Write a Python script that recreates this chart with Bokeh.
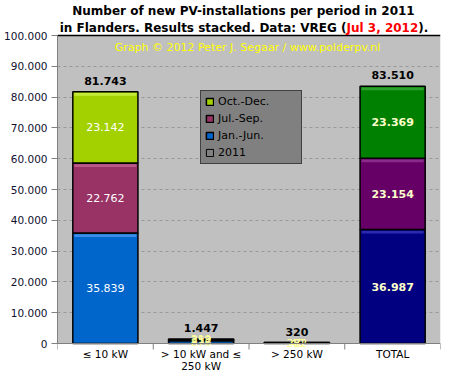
from bokeh.plotting import figure
from bokeh.models import (ColumnDataSource, Label, Legend, LegendItem, FixedTicker, Span,
                          BoxAnnotation)
from bokeh.core.properties import value
from bokeh.embed import file_html
from bokeh.resources import INLINE

# ---- data ----
categories = ["≤ 10 kW", "> 10 kW and ≤\n250 kW", "> 250 kW", "TOTAL"]
jan_jun = [35839, 876, 272, 36987]
jul_sep = [22762, 352, 40, 23154]
oct_dec = [23142, 219, 8, 23369]
totals = [81743, 1447, 320, 83510]
series_names = ["Jan.-Jun.", "Jul.-Sep.", "Oct.-Dec."]
y_ticks = [0, 10000, 20000, 30000, 40000, 50000, 60000, 70000, 80000, 90000, 100000]

# ---- styles ----
series_colors = ["#0066CC", "#993366", "#A3D100"]
total_colors = ["#000080", "#660066", "#008000"]
series_hi = ["#3A8EE6", "#B85A8A", "#C4EA3A"]
total_hi = ["#2A2AB0", "#8A2A8A", "#2EA02E"]
FONT = "DejaVu Sans"

W, H = 445, 373
FL, FT, FR, FB = 57, 35, 440, 343  # plot-area edges in picture pixels


def fmt(v):
    return f"{v:,}".replace(",", ".")


xs = list(range(1, len(categories) + 1))
n = len(categories)
YMAX = y_ticks[-1]
PX = YMAX / (FB - FT)          # data units per pixel (vertical)
XPX = n / (FR - FL)            # data units per pixel (horizontal)

# frame covers the full picture height; the value axis runs 0..YMAX inside it
p = figure(width=W, height=H, x_range=(0.5, n + 0.5),
           y_range=(-(H - FB) * PX, FB * PX),
           output_backend="svg", toolbar_location=None,
           min_border_left=FL, min_border_right=W - FR, min_border_top=0,
           min_border_bottom=0)
p.background_fill_color = "white"
p.border_fill_color = "white"
p.outline_line_color = None

p.add_layout(BoxAnnotation(bottom=0, top=YMAX, fill_color="#C0C0C0", fill_alpha=1,
                           line_color=None, level="image"))

# y axis
p.yaxis.ticker = FixedTicker(ticks=y_ticks, minor_ticks=[])
p.yaxis.bounds = (0, YMAX)
p.yaxis.major_label_overrides = {t: fmt(t) for t in y_ticks}
p.yaxis.major_label_text_font = FONT
p.yaxis.major_label_text_font_size = "10.5px"
p.yaxis.major_label_text_color = "#101030"
p.yaxis.axis_line_color = "#808080"
p.yaxis.major_tick_line_color = "#808080"
p.yaxis.major_tick_out = 6
p.yaxis.major_tick_in = 0
p.yaxis.major_label_standoff = 4

p.xaxis.visible = False
p.xgrid.grid_line_color = None
p.ygrid.ticker = FixedTicker(ticks=y_ticks[1:-1])
p.ygrid.grid_line_color = "#999999"
p.ygrid.grid_line_dash = "3 3"

p.add_layout(Span(location=YMAX, dimension="width", line_color="black", line_width=1.5))
p.add_layout(Span(location=0, dimension="width", line_color="#808080", line_width=1))

# category boundary ticks and category labels
bounds = [i + 0.5 for i in range(0, n + 1)]
p.segment(x0=bounds, y0=[0] * len(bounds), x1=bounds, y1=[-6 * PX] * len(bounds),
          line_color="#808080", line_width=1)
p.text(x=xs, y=[0] * n, text=categories, text_font=value(FONT), text_font_size="10.5px",
       text_color="black", text_align="center", text_baseline="top", y_offset=4,
       text_line_height=1.0)

# stacked bars
vals = [jan_jun, jul_sep, oct_dec]
bottoms = [0] * n
renderers = []
label_x, label_y, label_t, label_c, label_w = [], [], [], [], []
for si, sv in enumerate(vals):
    tops = [b + v for b, v in zip(bottoms, sv)]
    colors = [series_colors[si]] * (n - 1) + [total_colors[si]]
    src = ColumnDataSource(dict(x=xs, top=tops, bottom=bottoms, color=colors))
    r = p.vbar(x="x", top="top", bottom="bottom", width=0.68, source=src,
               fill_color="color", line_color="black", line_width=1.5)
    renderers.append(r)
    # light band at the top of each tall segment
    hx, ht, hb, hc = [], [], [], []
    for i in range(n):
        if sv[i] > 8 * PX:
            hx.append(xs[i])
            ht.append(tops[i] - 1.2 * PX)
            hb.append(tops[i] - 4 * PX)
            hc.append(series_hi[si] if i < n - 1 else total_hi[si])
    p.vbar(x=hx, top=ht, bottom=hb, width=0.68 - 3 * XPX, fill_color=hc, line_color=None)
    for i in range(n):
        label_x.append(xs[i])
        label_y.append((bottoms[i] + tops[i]) / 2)
        label_t.append(fmt(sv[i]))
        big = sv[i] > 5000
        if i == n - 1:
            label_c.append("#FFFFCC")
            label_w.append("bold")
        else:
            label_c.append("white" if big else "#FFFF99")
            label_w.append("normal")
    bottoms = tops

lsrc = ColumnDataSource(dict(x=label_x, y=label_y, t=label_t, c=label_c, w=label_w))
p.text(x="x", y="y", text="t", source=lsrc, text_color="c", text_font_style="w",
       text_font=value(FONT), text_font_size="11px", text_align="center",
       text_baseline="middle")

# totals above bars
tsrc = ColumnDataSource(dict(x=xs, y=totals, t=[fmt(v) for v in totals]))
p.text(x="x", y="y", text="t", source=tsrc, text_color="black", text_font_style="bold",
       text_font=value(FONT), text_font_size="11px", text_align="center",
       text_baseline="middle", y_offset=-11)

# "2011" legend entry (hollow square, off-range dummy)
dummy = p.vbar(x=[-1], top=[0], bottom=[0], width=0.5, fill_alpha=0,
               line_color="black", line_width=1)

legend = Legend(items=[
    LegendItem(label=series_names[2], renderers=[renderers[2]], index=0),
    LegendItem(label=series_names[1], renderers=[renderers[1]], index=0),
    LegendItem(label=series_names[0], renderers=[renderers[0]], index=0),
    LegendItem(label="2011", renderers=[dummy]),
], location=(200 - FL, H - 164))
legend.background_fill_color = "#808080"
legend.background_fill_alpha = 1
legend.border_line_color = "black"
legend.border_line_width = 1
legend.label_text_font = FONT
legend.label_text_font_size = "11px"
legend.label_text_color = "black"
legend.glyph_width = 9
legend.glyph_height = 9
legend.label_height = 13
legend.label_width = 79
legend.label_standoff = 4
legend.spacing = 4
legend.padding = 4
legend.margin = 0
p.add_layout(legend)


# titles placed in data units (converted from picture pixels)
def dx(px):
    return 0.5 + (px - FL) * XPX


def dy(py):
    return (FB - py) * PX


def lab(text, px, py, color="black", align="center", size="12px", style="bold"):
    p.add_layout(Label(x=dx(px), y=dy(py), text=text, text_color=color,
                       text_align=align, text_baseline="middle",
                       text_font=FONT, text_font_size=size, text_font_style=style))


lab("Number of new PV-installations per period in 2011", 243, 10)
split = 346
lab("in Flanders. Results stacked. Data: VREG (", split, 27, align="right")
lab("Jul 3, 2012", split, 27, color="red", align="left")
lab(").", split + 71.7, 27, align="left")
lab("Graph © 2012 Peter J. Segaar / www.polderpv.nl", 247, 47, color="#FFFF00",
    size="11px", style="normal")

open("out.html", "w").write(file_html(p, INLINE))
